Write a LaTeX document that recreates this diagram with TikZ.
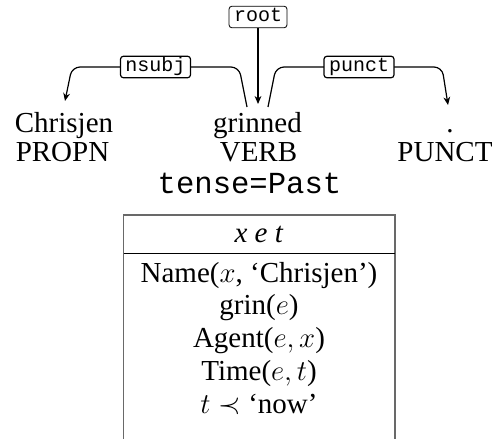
\documentclass[tikz,border=0pt]{standalone}
\usepackage{fontspec}
\setmainfont{Liberation Serif}
\setmonofont{Liberation Mono}
\usetikzlibrary{arrows.meta,positioning}
\definecolor{FrameGray}{RGB}{105,105,105}

\begin{document}
\begin{tikzpicture}[x=0.5pt,y=-0.5pt,
  word/.style={anchor=base,inner sep=0pt,font=\fontsize{14.5}{17}\selectfont},
  deplabel/.style={draw,fill=white,rounded corners=1.5pt,inner xsep=2.5pt,inner ysep=1.5pt,
    text height=6.2pt,text depth=1.6pt,font=\fontsize{10}{12}\ttfamily},
  deparc/.style={line width=0.6pt,rounded corners=4pt,-{Stealth[length=4pt,width=3.4pt]}}]
  \useasboundingbox (0,0) rectangle (501,438);

  % words and tags
  \node[word] (chr) at (64,133) {Chrisjen};
  \node[word] (chrtag) at (62.5,161) {PROPN};
  \node[word] (grin) at (257.5,133) {grinned};
  \node[word] (grintag) at (258.5,161) {VERB};
  \node[word] (dot) at (450,133) {.};
  \node[word] (dottag) at (445,161) {PUNCT};
  \node[anchor=base,inner sep=0pt,font=\fontsize{15.3}{18}\ttfamily] (feats) at (249.5,193) {tense=Past};

  % dependency arcs
  \coordinate (grinL) at (247,107);
  \coordinate (grinR) at (268,107);
  \coordinate (grinT) at (258,104);
  \coordinate (chrT) at (65,101);
  \coordinate (dotT) at (448,105);
  \node[deplabel] (rootlbl) at (258,17) {root};
  \draw[deparc] (rootlbl) -- (grinT);
  \draw[deparc] (grinL) -- (239,67) -- node[deplabel] (nsubjlbl) {nsubj} (72,67) -- (chrT);
  \draw[deparc] (grinR) -- (276,67) -- node[deplabel] (punctlbl) {punct} (442,67) -- (dotT);

  % DRS box
  \draw[FrameGray,line width=0.8pt] (123.5,445) -- (123.5,215) -- (395,215) -- (395,445);
  \draw[line width=0.5pt] (123.5,253) -- (395,253);
  \node[word] (head) at (259,242) {\textit{x e t}};
  \foreach \cond [count=\i] in {{Name($x$, ‘Chrisjen’)},{grin($e$)},{Agent($e,x$)},{Time($e,t$)},{$t\prec$ ‘now’}}
    \node[word] (cond\i) at (259,{282+32.8*(\i-1)}) {\cond};
\end{tikzpicture}
\end{document}
